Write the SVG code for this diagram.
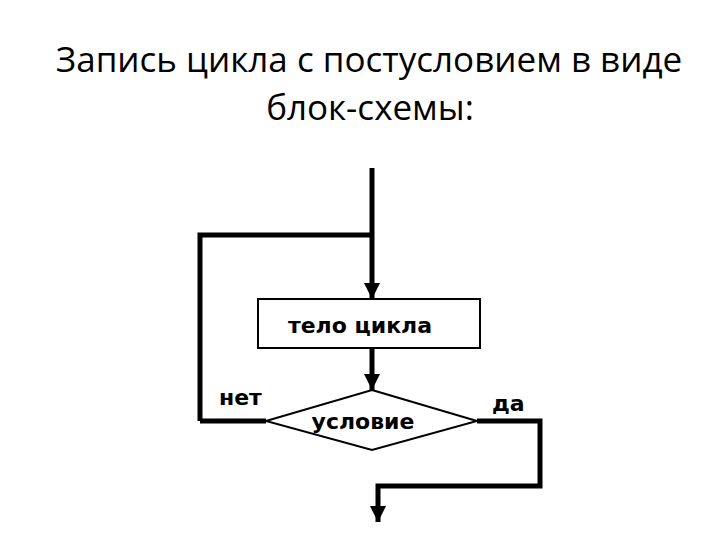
<svg xmlns="http://www.w3.org/2000/svg" width="720" height="540" viewBox="0 0 720 540">
<style>
.title{font-family:"Open Sans","Liberation Sans",sans-serif;font-size:35px;fill:#000;text-anchor:middle}
.lbl{font-family:"DejaVu Sans","Liberation Sans",sans-serif;font-weight:bold;font-size:22px;fill:#000}
.shape{fill:#fff;stroke:#000;stroke-width:2}
.flow{fill:none;stroke:#000;stroke-width:5;stroke-linejoin:miter}
</style>
<defs>
<marker id="ah" viewBox="0 0 10 10" refX="10" refY="5" markerWidth="3.2" markerHeight="3.2" orient="auto" markerUnits="strokeWidth">
<path d="M0,0 L10,5 L0,10 z" fill="#000"/>
</marker>
</defs>
<rect width="720" height="540" fill="#fff"/>
<g id="title">
<text class="title" x="369" y="72">Запись цикла с постусловием в виде</text>
<text class="title" x="370" y="120">блок-схемы:</text>
</g>
<g id="connectors">
<path class="flow" d="M372,168 V299" marker-end="url(#ah)"/>
<path class="flow" d="M200,421 V235 H372"/>
<path class="flow" d="M372,349 V390" marker-end="url(#ah)"/>
<path class="flow" d="M266,421 H200"/>
<path class="flow" d="M477,421 H540 V486 H378 V522" marker-end="url(#ah)"/>
</g>
<g id="body">
<rect class="shape" x="258" y="299" width="222" height="49"/>
<text class="lbl" x="360" y="333" text-anchor="middle">тело цикла</text>
</g>
<g id="cond">
<polygon class="shape" points="372,390 477,421 372,450 266,421"/>
<text class="lbl" x="363" y="429" text-anchor="middle">условие</text>
</g>
<g id="labels">
<text class="lbl" x="219" y="405">нет</text>
<text class="lbl" x="492" y="411">да</text>
</g>
</svg>
